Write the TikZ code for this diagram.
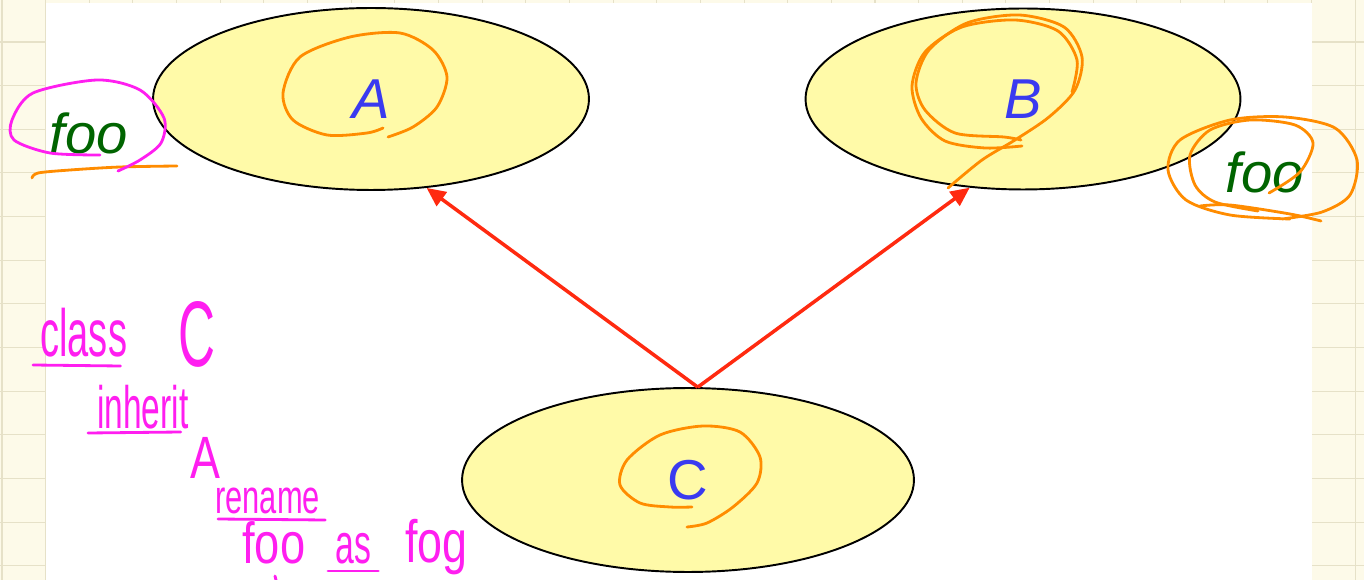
\documentclass[tikz,border=0pt]{standalone}
\usepackage{fontspec}
\setmainfont{Liberation Sans}
\usepackage{graphicx}
\usetikzlibrary{shapes.geometric,arrows.meta}

\definecolor{slidebg}{HTML}{FDFAE9}
\definecolor{gridln}{HTML}{E6E1C8}
\definecolor{classfill}{HTML}{FFFAA8}
\definecolor{classname}{HTML}{3A3AF0}
\definecolor{featname}{HTML}{006400}
\definecolor{inhred}{HTML}{FF2A10}
\definecolor{penpink}{HTML}{FF1EF0}
\definecolor{penorange}{HTML}{FF8C00}

\tikzset{
  cls/.style={ellipse,draw=black,line width=1.1pt,fill=classfill,
    text=classname,font=\fontsize{32}{32}\selectfont,inner sep=0pt},
  feat/.style={text=featname,font=\fontsize{32}{32}\selectfont\itshape,inner sep=0pt},
  inh/.style={draw=inhred,line width=2pt,-{Triangle[length=0.38cm,width=0.34cm]}},
  pen/.style={line width=1.6pt,line cap=round,line join=round},
  hand/.style={text=penpink,anchor=base west,inner sep=0pt},
}

\begin{document}
\begin{tikzpicture}[x=0.02cm,y=-0.02cm]
  \useasboundingbox (0,0) rectangle (1364,580);
  % grid paper and slide
  \fill[slidebg] (0,0) rectangle (1364,580);
  \foreach \k in {0,...,31}
    \draw[gridln,line width=0.6pt] ({2+43.65*\k},0) -- ({2+43.65*\k},580);
  \foreach \k in {1,...,14}
    \draw[gridln,line width=0.6pt] (0,{-1.65+43.65*\k}) -- (1364,{-1.65+43.65*\k});
  \fill[white] (45.5,3) rectangle (1312,580);

  % classes
  \node[cls,minimum width=8.72cm,minimum height=3.64cm] (A) at (371,99) {\itshape A};
  \node[cls,minimum width=8.70cm,minimum height=3.62cm] (B) at (1023,99) {\itshape B};
  \node[cls,minimum width=9.04cm,minimum height=3.68cm] (C) at (688,480) {C};
  \node[feat] (fooA) at (89,133) {foo};
  \node[feat] (fooB) at (1265,172) {foo};

  \coordinate (apex) at (C.84);
  \draw[inh] (apex) -- (A.-58);
  \draw[inh] (apex) -- (B.-121);

  % pen marks, orange
  \draw[pen,penorange] plot[smooth] coordinates {(32,178) (38,173) (70,170) (120,167) (177,166)};
  \draw[pen,penorange] plot[smooth] coordinates {(383,128) (367,133) (327,135) (293,120) (283,93)
    (300,57) (350,37) (400,33) (433,50) (447,77) (437,107) (413,127) (388,137)};
  \draw[pen,penorange] plot[smooth] coordinates {(1021,140) (1004,137) (955,133) (925,110) (916,83)
    (929,50) (967,23) (1019,15) (1064,27) (1082,57) (1075,90) (1049,117) (1015,140) (982,160) (948,188)};
  \draw[pen,penorange] plot[smooth] coordinates {(1022,146) (985,148) (945,141) (921,118) (912,86)
    (925,52) (962,27) (1015,20) (1058,31) (1077,60) (1072,92)};
  \draw[pen,penorange] plot[smooth] coordinates {(1269,193) (1300,172) (1313,143) (1295,125) (1250,120)
    (1210,130) (1190,155) (1195,185) (1215,202) (1258,211)};
  \draw[pen,penorange] plot[smooth] coordinates {(1200,206) (1230,205) (1290,214) (1321,221)};
  \draw[pen,penorange] plot[smooth] coordinates {(1290,219) (1230,215) (1186,200) (1168,170) (1180,140)
    (1230,120) (1285,117) (1335,128) (1357,160) (1350,195) (1322,212) (1282,219)};
  \draw[pen,penorange] plot[smooth] coordinates {(692,507) (670,507) (640,503) (620,485) (627,460)
    (660,435) (703,426) (740,432) (760,457) (757,483) (733,507) (707,523) (687,527)};

  % pen marks, pink
  \draw[pen,penpink] plot[smooth] coordinates {(100,155) (50,153) (14,140) (12,120) (33,93) (97,80)
    (140,90) (164,118) (161,143) (140,160) (118,171)};
  \node[hand,font=\fontsize{38}{38}\selectfont] (wclass) at (40,357) {\scalebox{.57}[1]{class}};
  \node[hand,font=\fontsize{53}{53}\selectfont] (wC) at (178,366) {\scalebox{.55}[1]{C}};
  \node[hand,font=\fontsize{34}{34}\selectfont] (winherit) at (97,428) {\scalebox{.56}[1]{inherit}};
  \node[hand,font=\fontsize{34}{34}\selectfont] (wA) at (190,478) {\scalebox{.75}[1]{A}};
  \node[hand,font=\fontsize{27}{27}\selectfont] (wrename) at (215,513) {\scalebox{.65}[1]{rename}};
  \node[hand,font=\fontsize{33}{33}\selectfont] (wfoo) at (242,563) {\scalebox{.78}[1]{foo}};
  \node[hand,font=\fontsize{32}{32}\selectfont] (was) at (335,563) {\scalebox{.6}[1]{as}};
  \node[hand,font=\fontsize{34}{34}\selectfont] (wfog) at (405,562) {\scalebox{.75}[1]{fog}};
  \draw[pen,penpink] ([xshift=-0.14cm,yshift=-0.16cm]wclass.base west) -- ([xshift=-0.14cm,yshift=-0.18cm]wclass.base east);
  \draw[pen,penpink] ([xshift=-0.18cm,yshift=-0.10cm]winherit.base west) -- ([xshift=-0.16cm,yshift=-0.08cm]winherit.base east);
  \draw[pen,penpink] ([xshift=0.06cm,yshift=-0.12cm]wrename.base west) -- ([xshift=0.10cm,yshift=-0.14cm]wrename.base east);
  \draw[pen,penpink] ([xshift=-0.14cm,yshift=-0.16cm]was.base west) -- ([xshift=0.14cm,yshift=-0.16cm]was.base east);
  \draw[pen,penpink] (275,576) -- (276,580);
\end{tikzpicture}
\end{document}
